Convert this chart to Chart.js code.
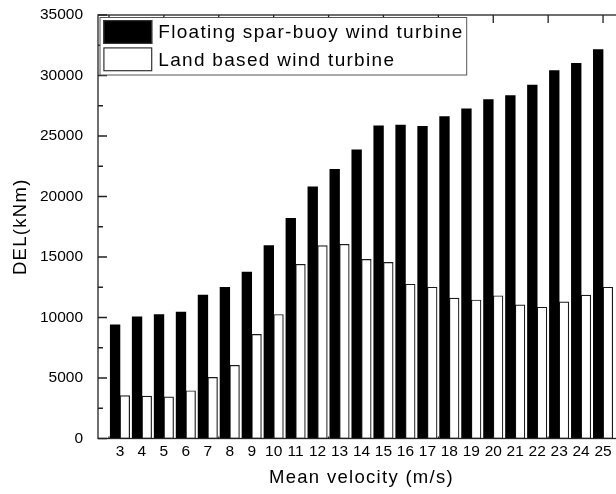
<!DOCTYPE html>
<html>
<head>
<meta charset="utf-8">
<script src="https://cdn.jsdelivr.net/npm/chart.js@4/dist/chart.umd.min.js"></script>
<style>
  html, body { margin: 0; padding: 0; background: #fff; overflow: hidden; }
  #wrap { width: 616px; height: 494px; overflow: hidden; }
  canvas { display: block; }
</style>
</head>
<body>
<div id="wrap"><canvas id="c" width="640" height="494"></canvas></div>
<script>
// Mean wind velocity (m/s)
const velocities = [3, 4, 5, 6, 7, 8, 9, 10, 11, 12, 13, 14, 15, 16, 17, 18, 19, 20, 21, 22, 23, 24, 25];

// Damage equivalent load (kNm)
const floatingDEL = [9400, 10050, 10250, 10450, 11850, 12500, 13750, 15950, 18200, 20800, 22250,
                     23850, 25850, 25900, 25800, 26600, 27250, 28000, 28350, 29200, 30400, 31000, 32150];
const landDEL = [3550, 3500, 3450, 3950, 5050, 6050, 8600, 10250, 14400, 15950, 16050,
                 14800, 14550, 12750, 12500, 11600, 11450, 11800, 11050, 10850, 11300, 11850, 12500];

const seriesNames = ['Floating spar-buoy wind turbine', 'Land based wind turbine'];
const yTicks = [0, 5000, 10000, 15000, 20000, 25000, 30000, 35000];
const frameTicksX = [2.5, 5, 7.5, 10, 12.5, 15, 17.5, 20, 22.5, 25];

const FONT = "'Liberation Sans', Arial, sans-serif";
const TEXT_SPACING = '1.3px';

// Axis frame with inward tick marks on all four sides
const framePlugin = {
  id: 'frame',
  afterDatasetsDraw(chart) {
    const { ctx, chartArea: a, scales: { x, y } } = chart;
    ctx.save();
    ctx.strokeStyle = '#222';
    ctx.lineWidth = 1.3;
    ctx.strokeRect(a.left, a.top, a.right - a.left, a.bottom - a.top);
    ctx.beginPath();
    for (let v = 0; v <= 35000; v += 2500) {
      const py = y.getPixelForValue(v);
      const len = v % 5000 === 0 ? 9 : 5;
      ctx.moveTo(a.left, py); ctx.lineTo(a.left + len, py);
      ctx.moveTo(a.right, py); ctx.lineTo(a.right - len, py);
    }
    frameTicksX.forEach(v => {
      const px = x.getPixelForValue(v);
      ctx.moveTo(px, a.top); ctx.lineTo(px, a.top + 8);
      ctx.moveTo(px, a.bottom); ctx.lineTo(px, a.bottom - 2);
    });
    ctx.stroke();
    ctx.restore();
  }
};

// Boxed legend in the upper-left corner of the plot area
const boxLegend = {
  id: 'boxLegend',
  afterDraw(chart) {
    const { ctx, chartArea: a } = chart;
    const ds = chart.data.datasets;
    ctx.save();
    ctx.font = `19px ${FONT}`;
    ctx.letterSpacing = TEXT_SPACING;
    const left = a.left + 2, top = a.top + 2.5;
    const swX = left + 3.3, swW = 49, swH = 24, rowH = 27.3;
    const textX = swX + swW + 6;
    const textW = Math.max(...ds.map(d => ctx.measureText(d.label).width));
    const w = textX + textW + 3 - left, h = 57.5;
    ctx.fillStyle = '#fff';
    ctx.fillRect(left, top, w, h);
    ctx.strokeStyle = '#555';
    ctx.lineWidth = 1;
    ctx.strokeRect(left, top, w, h);
    ds.forEach((d, i) => {
      const sy = top + 2.5 + i * rowH;
      ctx.fillStyle = d.backgroundColor;
      ctx.fillRect(swX, sy, swW, swH);
      ctx.strokeStyle = '#333';
      ctx.lineWidth = 1.2;
      ctx.strokeRect(swX + 0.6, sy + 0.6, swW - 1.2, swH - 1.2);
      ctx.fillStyle = '#000';
      ctx.textBaseline = 'middle';
      ctx.textAlign = 'left';
      ctx.fillText(d.label, textX, sy + swH / 2 + 1);
    });
    ctx.restore();
  }
};

// Slightly widened lettering for the axis titles
const spacedTitles = {
  id: 'spacedTitles',
  beforeDraw(chart) {
    Object.values(chart.scales).forEach(s => {
      if (s._spacedTitle) return;
      const orig = s.drawTitle.bind(s);
      s.drawTitle = function () {
        const prev = this.ctx.letterSpacing;
        this.ctx.letterSpacing = TEXT_SPACING;
        orig();
        this.ctx.letterSpacing = prev;
      };
      s._spacedTitle = true;
    });
  }
};

new Chart(document.getElementById('c'), {
  type: 'bar',
  data: {
    datasets: [
      {
        label: seriesNames[0],
        data: velocities.map((v, i) => ({ x: v, y: floatingDEL[i] })),
        backgroundColor: '#000',
        borderWidth: 0
      },
      {
        label: seriesNames[1],
        data: velocities.map((v, i) => ({ x: v, y: landDEL[i] })),
        backgroundColor: '#fff',
        borderColor: '#1a1a1a',
        borderWidth: 1.2,
        borderSkipped: false
      }
    ]
  },
  options: {
    responsive: false,
    animation: false,
    devicePixelRatio: 1,
    layout: { padding: { top: 15, right: 15, left: 0, bottom: 0 } },
    datasets: { bar: { barThickness: 9.7, grouped: true } },
    plugins: { legend: { display: false }, tooltip: { enabled: false } },
    scales: {
      x: {
        type: 'linear',
        offset: false,
        min: 2,
        max: 26,
        grid: { display: false, drawTicks: false, offset: false },
        border: { display: false },
        afterBuildTicks: s => { s.ticks = velocities.map(v => ({ value: v })); },
        afterFit: s => { s.height = 55.5; },
        ticks: {
          autoSkip: false,
          maxRotation: 0,
          padding: 4,
          color: '#000',
          font: { family: FONT, size: 15.5 },
          callback: v => String(v)
        },
        title: {
          display: true,
          text: 'Mean velocity (m/s)',
          color: '#000',
          font: { family: FONT, size: 18.5 },
          padding: { top: 0, bottom: 5 }
        }
      },
      y: {
        min: 0,
        max: 35000,
        grid: { display: false, drawTicks: false },
        border: { display: false },
        afterBuildTicks: s => { s.ticks = yTicks.map(v => ({ value: v })); },
        afterFit: s => { s.width = 98; s.paddingTop = 0; s.paddingBottom = 0; },
        ticks: {
          padding: 15,
          color: '#000',
          font: { family: FONT, size: 15.5 },
          callback: v => String(v)
        },
        title: {
          display: true,
          text: 'DEL(kNm)',
          color: '#000',
          font: { family: FONT, size: 18.5 },
          padding: { top: 10, bottom: 0 }
        }
      }
    }
  },
  plugins: [framePlugin, boxLegend, spacedTitles]
});
</script>
</body>
</html>
